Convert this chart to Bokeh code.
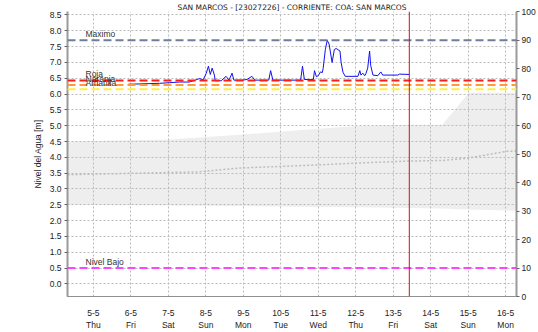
from bokeh.plotting import figure
from bokeh.models import (Range1d, LinearAxis, FixedTicker, Span, Label,
                          PrintfTickFormatter)
from bokeh.embed import file_html
from bokeh.resources import INLINE

# ---------------- data ----------------
title_text = "SAN MARCOS - [23027226] - CORRIENTE: COA: SAN MARCOS"

day_ticks = [5, 6, 7, 8, 9, 10, 11, 12, 13, 14, 15, 16]
day_labels = ["5-5\nThu", "6-5\nFri", "7-5\nSat", "8-5\nSun", "9-5\nMon",
              "10-5\nTue", "11-5\nWed", "12-5\nThu", "13-5\nFri",
              "14-5\nSat", "15-5\nSun", "16-5\nMon"]

level_ticks = [0.0, 0.5, 1.0, 1.5, 2.0, 2.5, 3.0, 3.5, 4.0, 4.5, 5.0, 5.5,
               6.0, 6.5, 7.0, 7.5, 8.0, 8.5]
pct_ticks = [0, 10, 20, 30, 40, 50, 60, 70, 80, 90, 100]

# observed water level (day of May, metres)
obs_day = [5.93, 6.51, 6.77, 7.04, 7.30, 7.56, 7.72, 7.83, 7.93, 8.01, 8.07,
           8.12, 8.17, 8.23, 8.25, 8.41, 8.54, 8.62, 8.70, 8.75, 8.97, 9.10,
           9.23, 9.31, 9.68, 9.73, 9.79, 10.53, 10.58, 10.63, 10.87, 10.90,
           10.95, 11.00, 11.06, 11.11, 11.13, 11.19, 11.24, 11.29, 11.32,
           11.37, 11.43, 11.48, 11.53, 11.58, 11.61, 11.66, 11.72, 11.80,
           12.06, 12.11, 12.14, 12.19, 12.24, 12.27, 12.32, 12.37, 12.40,
           12.46, 12.59, 12.67, 12.72, 13.12, 13.17, 13.43]
obs_level = [6.31, 6.33, 6.34, 6.36, 6.38, 6.38, 6.44, 6.49, 6.45, 6.65, 6.88,
             6.62, 6.82, 6.60, 6.42, 6.42, 6.56, 6.44, 6.66, 6.44, 6.44, 6.46,
             6.56, 6.44, 6.44, 6.74, 6.44, 6.44, 6.88, 6.46, 6.46, 6.74,
             6.55, 6.58, 6.70, 6.68, 6.80, 7.41, 7.70, 7.58, 7.36,
             7.00, 7.41, 7.44, 7.40, 7.36, 7.00, 6.69, 6.56, 6.56,
             6.56, 6.74, 6.60, 6.66, 6.58, 6.64, 6.82, 7.36, 6.90,
             6.60, 6.58, 6.70, 6.60, 6.60, 6.63, 6.62]

# forecast envelope
band_day = [4.31, 7.04, 8.89, 11.00, 12.06, 13.38, 14.31, 15.02, 16.29]
band_upper = [4.50, 4.56, 4.71, 4.90, 4.99, 5.03, 5.03, 6.04, 6.04]
band_lower = [2.49, 2.48, 2.46, 2.43, 2.42, 2.40, 2.38, 2.35, 2.31]
median_day = [4.31, 7.80, 8.89, 11.00, 12.06, 13.38, 14.31, 14.97, 16.03, 16.29]
median_level = [3.45, 3.54, 3.66, 3.76, 3.82, 3.88, 3.90, 3.97, 4.19, 4.20]

# thresholds
thr_names = ["Maximo", "Roja", "Naranja", "Amarilla", "Nivel Bajo"]
thr_values = [7.70, 6.43, 6.29, 6.15, 0.50]
thr_colors = ["#6F7C9C", "#FF1A1A", "#FF9A3C", "#FFEE44", "#FF44FF"]

now_day = 13.43

FONT = "Liberation Sans"
FS = "8.5px"

# ---------------- figure ----------------
p = figure(width=538, height=332, output_backend="svg", toolbar_location=None,
           x_range=Range1d(4.31, 16.29), y_range=Range1d(-0.40, 8.61),
           min_border_left=67, min_border_right=18, min_border_top=0,
           min_border_bottom=30)
p.title.text = title_text
p.title.align = "center"
p.title.text_font = "DejaVu Sans"
p.title.text_font_size = "7.5px"
p.title.text_font_style = "normal"
p.title.text_color = "#222222"
p.title.standoff = 0
p.title.offset = 0
p.outline_line_color = None
p.background_fill_color = "white"
p.border_fill_color = "white"

p.extra_y_ranges = {"pct": Range1d(0, 100)}

# envelope
env = p.varea(x=band_day, y1=band_lower, y2=band_upper, fill_color="#EEEEEE")
env.level = "image"
p.line(median_day, median_level, line_color="#BDBDBD", line_width=1.5,
       line_dash="2 2")

# thresholds
for name, val, col in zip(thr_names, thr_values, thr_colors):
    p.add_layout(Span(location=val, dimension="width", line_color=col,
                      line_width=2, line_dash="8 4"))
    p.add_layout(Label(x=4.79, y=val, text=name, text_baseline="bottom",
                       y_offset=1, text_font=FONT, text_font_size=FS,
                       text_color="#333333"))

# now line
p.add_layout(Span(location=now_day, dimension="height", line_color="#D81010",
                  line_width=1))

# observed
p.line(obs_day, obs_level, line_color="#1010F0", line_width=1)

# axes
xa = p.xaxis[0]
xa.ticker = FixedTicker(ticks=day_ticks)
xa.major_label_overrides = {t: l for t, l in zip(day_ticks, day_labels)}
xa.axis_line_color = "#222222"
xa.axis_line_dash = "1 1"
xa.axis_line_width = 1
xa.major_tick_line_color = None
xa.minor_tick_line_color = None
xa.major_label_standoff = 5
xa.major_label_text_font = FONT
xa.major_label_text_font_size = FS
xa.major_label_text_color = "#222222"

ya = p.yaxis[0]
ya.ticker = FixedTicker(ticks=level_ticks)
ya.formatter = PrintfTickFormatter(format="%.1f")
ya.axis_label = "Nivel del Agua [m]"
ya.axis_label_text_font = FONT
ya.axis_label_text_font_size = FS
ya.axis_label_text_font_style = "normal"
ya.axis_label_text_color = "#222222"
ya.axis_label_standoff = 4
ya.axis_line_color = "#9A9A9A"
ya.axis_line_width = 2
ya.major_tick_line_color = "#666666"
ya.major_tick_out = 3
ya.major_tick_in = 0
ya.minor_tick_line_color = None
ya.major_label_standoff = 3
ya.major_label_text_font = FONT
ya.major_label_text_font_size = FS
ya.major_label_text_color = "#222222"

ra = LinearAxis(y_range_name="pct", ticker=FixedTicker(ticks=pct_ticks))
ra.axis_line_color = "#9A9A9A"
ra.axis_line_width = 2
ra.major_tick_line_color = "#666666"
ra.major_tick_out = 3
ra.major_tick_in = 0
ra.minor_tick_line_color = None
ra.major_label_standoff = 2
ra.major_label_text_font = FONT
ra.major_label_text_font_size = FS
ra.major_label_text_color = "#222222"
p.add_layout(ra, "right")

for g in (p.xgrid[0], p.ygrid[0]):
    g.grid_line_color = "#BBBBBB"
    g.grid_line_dash = "2 2"
    g.grid_line_width = 1

open("out.html", "w").write(file_html(p, INLINE))
